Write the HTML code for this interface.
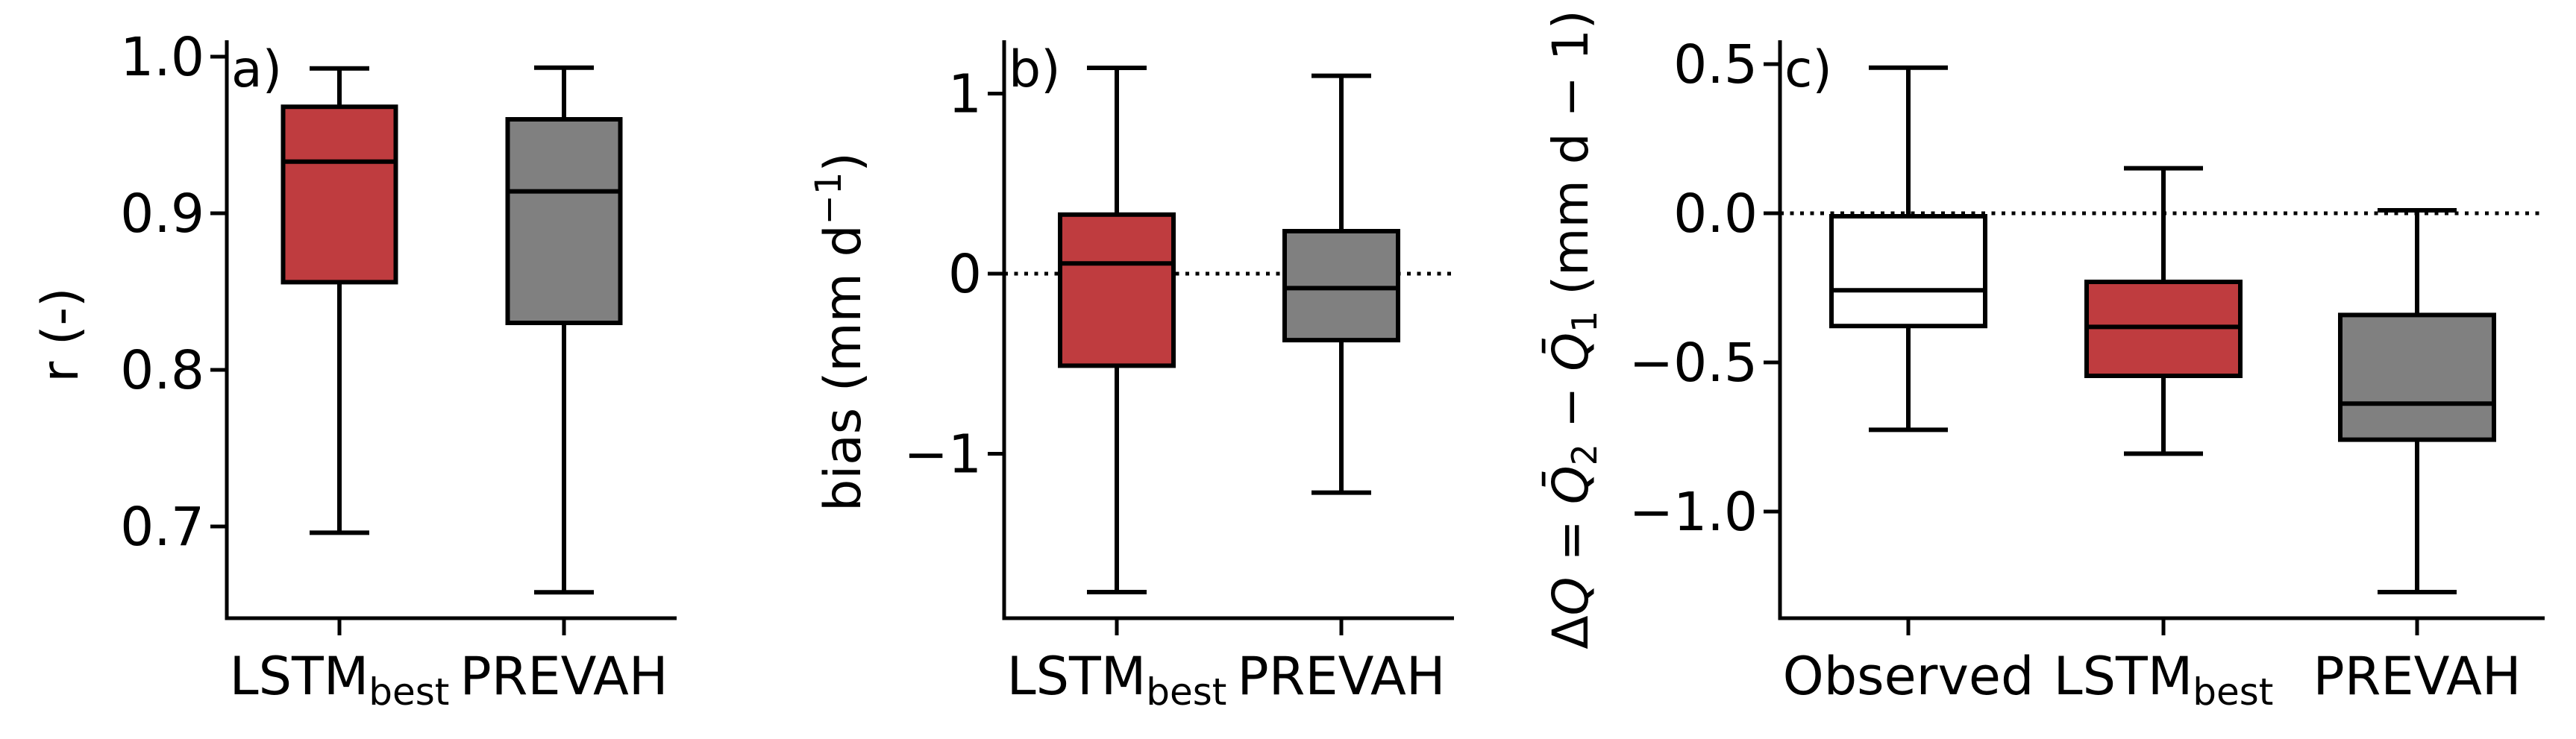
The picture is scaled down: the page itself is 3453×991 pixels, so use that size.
<!DOCTYPE html>
<html><head><meta charset="utf-8"><style>
html,body{margin:0;padding:0;background:#fff;}
svg{display:block;font-family:"DejaVu Sans","Liberation Sans",sans-serif;}
</style></head><body>
<svg id="fig" width="3453" height="991" viewBox="0 0 3453 991" xmlns="http://www.w3.org/2000/svg"></svg>
<script>
// Panel a: correlation r
const catsA = ["LSTM","PREVAH"];
const whiskHiA = [0.9925, 0.993];
const q3A = [0.968, 0.960];
const medA = [0.933, 0.914];
const q1A = [0.856, 0.830];
const whiskLoA = [0.696, 0.658];
const ticksA = [0.7, 0.8, 0.9, 1.0];
const tickLabelsA = ["0.7","0.8","0.9","1.0"];
// Panel b: bias
const catsB = ["LSTM","PREVAH"];
const whiskHiB = [1.143, 1.099];
const q3B = [0.328, 0.236];
const medB = [0.057, -0.080];
const q1B = [-0.511, -0.369];
const whiskLoB = [-1.768, -1.216];
const ticksB = [-1, 0, 1];
const tickLabelsB = ["\u22121","0","1"];
// Panel c: delta Q
const catsC = ["Observed","LSTM","PREVAH"];
const whiskHiC = [0.488, 0.151, 0.010];
const q3C = [-0.010, -0.230, -0.341];
const medC = [-0.258, -0.381, -0.638];
const q1C = [-0.378, -0.545, -0.759];
const whiskLoC = [-0.726, -0.806, -1.270];
const ticksC = [-1.0, -0.5, 0.0, 0.5];
const tickLabelsC = ["\u22121.0","\u22120.5","0.0","0.5"];

const NS = "http://www.w3.org/2000/svg";
const svg = document.getElementById("fig");
function el(tag, attrs, parent){
  const e = document.createElementNS(NS, tag);
  for (const k in attrs) e.setAttribute(k, attrs[k]);
  (parent||svg).appendChild(e);
  return e;
}
const colorFor = {Observed:"#ffffff", LSTM:"#bf3c3f", PREVAH:"#808080"};
const LW = 6;

function panel(cfg){
  const g = el("g", {});
  
  
  const y = v => cfg.y0 + (v - cfg.v0) * cfg.scale;
  const x = i => cfg.xs[i];
  if (cfg.zero){
    const zl = el("line", {x1:cfg.ax, x2:cfg.axR, y1:y(0), y2:y(0), stroke:"#000","stroke-width":5,"stroke-dasharray":"5 8.5"}, g);
    
    
  }
  cfg.cats.forEach((c,i)=>{
    const bg = el("g", {}, g);
    
    
    const cx = x(i), hw = cfg.bw/2, cw = cfg.cw/2;
    el("line",{x1:cx,x2:cx,y1:y(cfg.hi[i]),y2:y(cfg.q3[i]),stroke:"#000","stroke-width":LW},bg);
    el("line",{x1:cx,x2:cx,y1:y(cfg.q1[i]),y2:y(cfg.lo[i]),stroke:"#000","stroke-width":LW},bg);
    el("line",{x1:cx-cw,x2:cx+cw,y1:y(cfg.hi[i]),y2:y(cfg.hi[i]),stroke:"#000","stroke-width":LW},bg);
    el("line",{x1:cx-cw,x2:cx+cw,y1:y(cfg.lo[i]),y2:y(cfg.lo[i]),stroke:"#000","stroke-width":LW},bg);
    el("rect",{x:cx-hw,y:y(cfg.q3[i]),width:cfg.bw,height:y(cfg.q1[i])-y(cfg.q3[i]),fill:colorFor[c],stroke:"#000","stroke-width":LW},bg);
    el("line",{x1:cx-hw,x2:cx+hw,y1:y(cfg.med[i]),y2:y(cfg.med[i]),stroke:"#000","stroke-width":LW},bg);
    el("line",{x1:cx,x2:cx,y1:829,y2:852,stroke:"#000","stroke-width":5},g);
    const t = el("text",{x:cx,y:931,"font-size":70,"text-anchor":"middle"},g);
    
    
    if (c === "LSTM"){
      t.textContent = "LSTM";
      const s = el("tspan",{"font-size":50,dy:14},t);
      s.textContent = "best";
    } else t.textContent = c;
  });
  const ya = el("line",{x1:cfg.ax,x2:cfg.ax,y1:54,y2:831,stroke:"#000","stroke-width":5},g);
  
  
  const xa = el("line",{x1:cfg.ax-2.5,x2:cfg.axR,y1:829,y2:829,stroke:"#000","stroke-width":5},g);
  
  
  cfg.ticks.forEach((v,i)=>{
    el("line",{x1:cfg.ax-22,x2:cfg.ax,y1:y(v),y2:y(v),stroke:"#000","stroke-width":5},g);
    const t = el("text",{x:cfg.ax-30,y:y(v)+25,"font-size":71,"text-anchor":"end"},g);
    
    
    t.textContent = cfg.tickLabels[i];
  });
  const pl = el("text",{x:cfg.ax+6,y:116,"font-size":68},g);
  
  
  pl.textContent = cfg.label;
  return g;
}

panel({name:"panel-a", cats:catsA, hi:whiskHiA, q3:q3A, med:medA, q1:q1A, lo:whiskLoA,
  ticks:ticksA, tickLabels:tickLabelsA, y0:76, v0:1.0, scale:-2100, ax:304, axR:907,
  xs:[455,756], bw:151, cw:80, label:"a)", zero:false});
panel({name:"panel-b", cats:catsB, hi:whiskHiB, q3:q3B, med:medB, q1:q1B, lo:whiskLoB,
  ticks:ticksB, tickLabels:tickLabelsB, y0:367, v0:0, scale:-241.5, ax:1346, axR:1949,
  xs:[1497,1798], bw:152, cw:80, label:"b)", zero:true});
panel({name:"panel-c", cats:catsC, hi:whiskHiC, q3:q3C, med:medC, q1:q1C, lo:whiskLoC,
  ticks:ticksC, tickLabels:tickLabelsC, y0:286, v0:0, scale:-400, ax:2386, axR:3411,
  xs:[2558,2900,3240], bw:206, cw:106, label:"c)", zero:true});

const ta = el("text",{x:0,y:0,"font-size":68,"text-anchor":"middle",transform:"translate(104,449) rotate(-90)"});


ta.textContent = "r (-)";
const tb = el("text",{x:0,y:0,"font-size":68,"text-anchor":"middle",transform:"translate(1153,445) rotate(-90)"});


tb.textContent = "bias (mm d";
const tbs = el("tspan",{"font-size":48,dy:-26},tb); tbs.textContent = "\u22121";
const tbe = el("tspan",{dy:26},tb); tbe.textContent = ")";
const tc = el("text",{x:0,y:0,"font-size":66,"text-anchor":"middle",transform:"translate(2128,442) rotate(-90)"});


tc.innerHTML = '\u0394<tspan font-style="italic">Q</tspan> = <tspan font-style="italic">Q\u0304</tspan><tspan font-size="46" dy="12">2</tspan><tspan dy="-12"> \u2212 </tspan><tspan font-style="italic">Q\u0304</tspan><tspan font-size="46" dy="12">1</tspan><tspan dy="-12"> (mm d \u2212 1)</tspan>';
</script>
</body></html>
